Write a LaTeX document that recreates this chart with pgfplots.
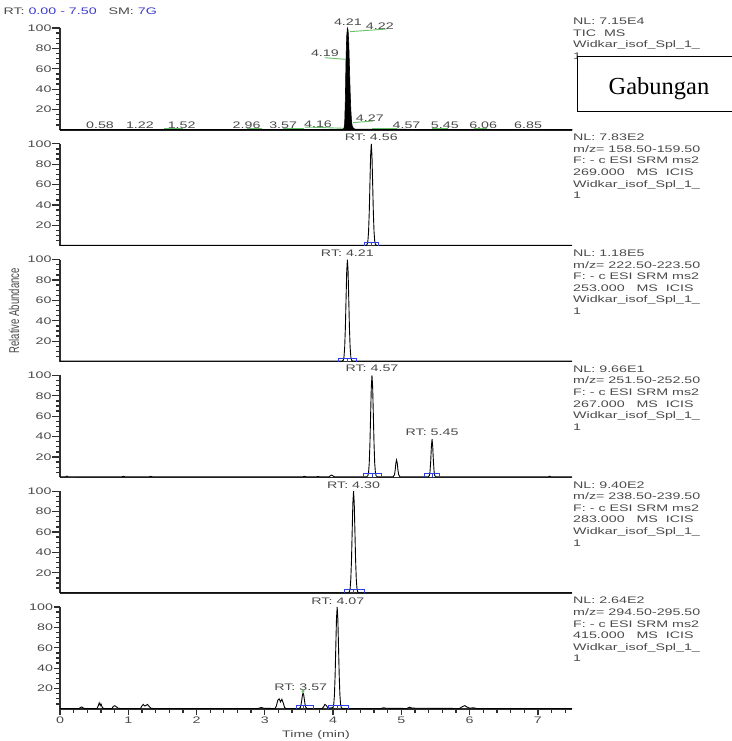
\documentclass[border=0pt]{standalone}
\usepackage{pgfplots}
\pgfplotsset{compat=1.18}
\usepackage{graphicx}
\usepackage{fontspec}
\setmainfont{Liberation Sans}
\newfontfamily\boxfont{Liberation Serif}

\definecolor{axisgray}{HTML}{2E2E2E}
\definecolor{txtgray}{HTML}{4A4A4A}
\definecolor{rtblue}{HTML}{3A3AD0}
\definecolor{lblgreen}{HTML}{66C266}
\definecolor{bblue}{HTML}{2B3FE6}

% wide instrument-style lettering
\newcommand{\sx}[1]{\scalebox{1.5}[1]{#1}}
\newcommand{\chromfont}{\fontsize{9.5}{11.5}\selectfont}
\newcommand{\infoline}[3]{\node[anchor=base west,inner sep=0pt,font=\chromfont,text=txtgray] at (#1pt,#2pt) {\sx{#3}};}
\newcommand{\rtlabel}[3]{\node[anchor=base,inner sep=0pt,font=\chromfont,text=txtgray] at (axis cs:#1,#2) {\sx{#3}};}
% short ticks every 5 % on the intensity scale
\newcommand{\yminors}{\pgfplotsinvokeforeach{5,10,15,25,30,35,45,50,55,65,70,75,85,90,95}{%
  \draw[axisgray, line width=1.3pt] (axis cs:0,##1) -- ++(-4.5pt,0pt);}}

\pgfplotsset{
  chrom/.style={
    scale only axis, width=512pt, height=102pt,
    xmin=0, xmax=7.5, ymin=0, ymax=100,
    axis x line=bottom, axis y line=left,
    axis line style={-, draw=axisgray, line width=1.4pt},
    clip=false,
    xtick=\empty,
    ytick={20,40,60,80,100},
    yticklabels={\sx{20},\sx{40},\sx{60},\sx{80},\sx{100}},
    tick style={draw=axisgray, line width=1.3pt},
    major tick length=7.5pt,
    tick align=outside,
    yticklabel style={font=\chromfont, text=txtgray, inner sep=0.8pt},
    xticklabel style={font=\chromfont, text=txtgray, inner sep=1.5pt},
    every axis plot/.append style={line width=0.9pt},
  },
  bracket/.style={bblue, line width=0.8pt},
  leader/.style={lblgreen, line width=0.9pt},
}

\begin{document}
\begin{tikzpicture}
\useasboundingbox (0pt,0pt) rectangle (731pt,741pt);

% ---------------- TIC ----------------
\begin{axis}[chrom, at={(60pt,611pt)}, anchor=south west]
\yminors
\addplot[black, fill=black, line width=0.6pt] coordinates {
 (0,0.6) (4.12,0.6) (4.15,1.0) (4.16,2.0) (4.17,6) (4.18,30) (4.19,70) (4.20,92)
 (4.21,100) (4.22,98) (4.23,85) (4.24,62) (4.25,38) (4.26,20) (4.27,9) (4.28,4)
 (4.30,1.5) (4.33,0.7) (7.5,0.6)} \closedcycle;
\addplot[leader] coordinates {(4.246,96.4) (4.783,99)};
\addplot[leader] coordinates {(3.880,70.9) (4.173,69.3)};
\addplot[leader] coordinates {(3.587,2.9) (4.148,1.7)};
\addplot[leader] coordinates {(4.294,7.2) (4.587,8.8)};
\addplot[leader] coordinates {(1.52,1.3) (1.80,1.3)};
\addplot[leader] coordinates {(2.74,1.3) (2.96,1.3)};
\addplot[leader] coordinates {(3.27,1.3) (3.57,1.3)};
\addplot[leader] coordinates {(4.57,1.3) (4.93,1.3)};
\addplot[leader] coordinates {(5.45,1.3) (5.69,1.3)};
\addplot[leader] coordinates {(6.06,1.3) (6.25,1.3)};
\rtlabel{4.217}{102.5}{4.21}
\rtlabel{4.685}{98.8}{4.22}
\rtlabel{3.880}{71.8}{4.19}
\rtlabel{3.780}{2.2}{4.16}
\rtlabel{4.539}{8.6}{4.27}
\rtlabel{0.586}{1.5}{0.58}
\rtlabel{1.171}{1.5}{1.22}
\rtlabel{1.782}{1.5}{1.52}
\rtlabel{2.733}{1.5}{2.96}
\rtlabel{3.269}{1.5}{3.57}
\rtlabel{5.076}{1.5}{4.57}
\rtlabel{5.637}{1.5}{5.45}
\rtlabel{6.198}{1.5}{6.06}
\rtlabel{6.857}{1.5}{6.85}
\end{axis}

% ---------------- m/z 158.50-159.50 ----------------
\begin{axis}[chrom, at={(60pt,495.2pt)}, anchor=south west]
\yminors
\addplot[black] coordinates {
 (0,0.4) (4.48,0.4) (4.50,1.4) (4.51,4.7) (4.52,13.8) (4.53,32.7) (4.54,60.8) (4.55,88.3)
 (4.56,100) (4.57,88.3) (4.58,60.8) (4.59,32.7) (4.60,13.8) (4.61,4.7) (4.62,1.4)
 (4.64,0.4) (7.5,0.4)};
\addplot[bracket] coordinates {(4.46,0) (4.46,3.5) (4.67,3.5) (4.67,0)};
\addplot[bracket] coordinates {(4.56,0) (4.56,3.5)};
\rtlabel{4.56}{103.2}{RT: 4.56}
\end{axis}

% ---------------- m/z 222.50-223.50 ----------------
\begin{axis}[chrom, at={(60pt,379.4pt)}, anchor=south west]
\yminors
\addplot[black] coordinates {
 (0,0.4) (4.13,0.4) (4.15,1.4) (4.16,4.7) (4.17,13.8) (4.18,32.7) (4.19,60.8) (4.20,88.3)
 (4.21,100) (4.22,88.3) (4.23,60.8) (4.24,32.7) (4.25,13.8) (4.26,4.7) (4.27,1.4)
 (4.29,0.4) (7.5,0.4)};
\addplot[bracket] coordinates {(4.08,0) (4.08,3.5) (4.34,3.5) (4.34,0)};
\addplot[bracket] coordinates {(4.21,0) (4.21,3.5)};
\rtlabel{4.21}{103.5}{RT: 4.21}
\end{axis}

% ---------------- m/z 251.50-252.50 ----------------
\begin{axis}[chrom, at={(60pt,263.6pt)}, anchor=south west]
\yminors
\addplot[black] coordinates {
 (0,0.5) (0.08,0.5) (0.10,1.3) (0.12,0.6) (0.90,0.5) (0.93,1.0) (0.96,0.5)
 (1.30,0.5) (1.33,1.0) (1.36,0.5) (3.55,0.5) (3.58,1.0) (3.61,0.5) (3.75,0.5) (3.78,0.9)
 (3.81,0.5) (3.94,0.5) (3.96,1.6) (3.98,2.3) (4.00,1.4) (4.02,0.5)
 (4.49,0.5) (4.51,1.6) (4.52,4.9) (4.53,14) (4.54,33) (4.55,61) (4.56,88.3) (4.57,100)
 (4.58,88.3) (4.59,61) (4.60,33) (4.61,14) (4.62,4.9) (4.63,1.6) (4.65,0.5)
 (4.88,0.5) (4.90,2.7) (4.91,7.4) (4.92,14) (4.93,17) (4.94,14) (4.95,7.4) (4.96,2.7) (4.98,0.5)
 (5.39,0.5) (5.41,1.6) (5.42,5.5) (5.43,15.5) (5.44,30) (5.45,37.5) (5.46,30) (5.47,15.5)
 (5.48,5.5) (5.49,1.6) (5.51,0.5) (7.15,0.5) (7.17,1.2) (7.19,0.5) (7.5,0.5)};
\addplot[bracket] coordinates {(4.44,0) (4.44,3.5) (4.71,3.5) (4.71,0)};
\addplot[bracket] coordinates {(4.57,0) (4.57,3.5)};
\addplot[bracket] coordinates {(5.34,0) (5.34,3.5) (5.56,3.5) (5.56,0)};
\addplot[bracket] coordinates {(5.45,0) (5.45,3.5)};
\rtlabel{4.57}{103.5}{RT: 4.57}
\rtlabel{5.45}{41.4}{RT: 5.45}
\end{axis}

% ---------------- m/z 238.50-239.50 ----------------
\begin{axis}[chrom, at={(60pt,147.8pt)}, anchor=south west]
\yminors
\addplot[black] coordinates {
 (0,0.4) (4.22,0.4) (4.24,1.4) (4.25,4.7) (4.26,13.8) (4.27,32.7) (4.28,60.8) (4.29,88.3)
 (4.30,100) (4.31,88.3) (4.32,60.8) (4.33,32.7) (4.34,13.8) (4.35,4.7) (4.36,1.4)
 (4.38,0.4) (7.5,0.4)};
\addplot[bracket] coordinates {(4.16,0) (4.16,3.5) (4.46,3.5) (4.46,0)};
\addplot[bracket] coordinates {(4.30,0) (4.30,3.5)};
\rtlabel{4.30}{102.6}{RT: 4.30}
\end{axis}

% ---------------- m/z 294.50-295.50 ----------------
\begin{axis}[chrom, at={(60pt,32pt)}, anchor=south west,
  xtick={0,1,2,3,4,5,6,7}, major tick length=6pt,
  xticklabels={\sx{0},\sx{1},\sx{2},\sx{3},\sx{4},\sx{5},\sx{6},\sx{7}}]
\yminors
\pgfplotsinvokeforeach{0.2,0.4,0.6,0.8,1.2,1.4,1.6,1.8,2.2,2.4,2.6,2.8,3.2,3.4,3.6,3.8,
    4.2,4.4,4.6,4.8,5.2,5.4,5.6,5.8,6.2,6.4,6.6,6.8,7.2,7.4}{%
  \draw[axisgray, line width=1.3pt] (axis cs:#1,0) -- ++(0pt,-4.5pt);}
\addplot[black] coordinates {
 (0,0.5) (0.28,0.5) (0.30,1.5) (0.32,2) (0.34,1) (0.36,0.5) (0.54,0.5) (0.56,3)
 (0.575,6) (0.59,3.5) (0.60,5) (0.62,1.5) (0.64,0.5) (0.76,0.5) (0.78,2.5) (0.80,3.2)
 (0.82,2.5) (0.85,0.8) (0.88,0.5) (1.18,0.5) (1.20,3) (1.22,4.5) (1.24,3) (1.26,3.5)
 (1.28,4.5) (1.30,3) (1.33,0.8) (1.36,0.5) (2.90,0.5) (2.95,1.5) (2.99,0.6) (3.15,0.5)
 (3.17,3) (3.19,8.5) (3.21,10) (3.23,7) (3.25,9.5) (3.27,6) (3.29,1.5) (3.31,0.5)
 (3.50,0.5) (3.52,1.5) (3.53,4) (3.54,8) (3.55,13) (3.56,15.5) (3.57,14) (3.58,9)
 (3.59,4.5) (3.60,1.8) (3.62,0.5) (3.84,0.5) (3.86,2) (3.88,4.5) (3.90,3.5) (3.92,1.5)
 (3.95,0.8) (3.99,1.4) (4.00,1.4) (4.01,4.7) (4.02,13.8) (4.03,32.7) (4.04,60.8)
 (4.05,88.3) (4.06,100) (4.07,88.3) (4.08,60.8) (4.09,32.7) (4.10,13.8) (4.11,4.7)
 (4.12,1.4) (4.14,0.5) (4.70,0.5) (4.74,1.2) (4.78,0.7) (5.08,0.5) (5.12,1.8) (5.16,0.8)
 (5.85,0.5) (5.90,2.5) (5.93,3.3) (5.96,2) (6.00,0.8) (6.06,1.2) (6.10,0.5) (7.5,0.5)};
\addplot[lblgreen, only marks, mark=*, mark size=1pt] coordinates {(3.56,17.5)};
\addplot[bracket] coordinates {(3.47,0) (3.47,3.5) (3.71,3.5) (3.71,0)};
\addplot[bracket] coordinates {(3.57,0) (3.57,3.5)};
\addplot[bracket] coordinates {(3.93,0) (3.93,3.5) (4.22,3.5) (4.22,0)};
\addplot[bracket] coordinates {(4.07,0) (4.07,3.5)};
\rtlabel{4.07}{102.7}{RT: 4.07}
\rtlabel{3.526}{18.4}{RT: 3.57}
\end{axis}

% time axis title
\node[anchor=base,inner sep=0pt,font=\chromfont,text=txtgray] at (316pt,3.7pt) {\sx{Time (min)}};

% run header
\node[anchor=base west,inner sep=0pt,font=\chromfont,text=txtgray] at (3.3pt,726.5pt)
  {\sx{RT: \textcolor{rtblue}{0.00 - 7.50}\ \ \ SM: \textcolor{rtblue}{7G}}};

% vertical axis title
\node[rotate=90,inner sep=0pt,font=\chromfont,text=txtgray] at (14pt,430.2pt)
  {\scalebox{1}[1.5]{Relative Abundance}};

% trace descriptions
\infoline{573}{716.5}{NL: 7.15E4}
\infoline{573}{704.9}{TIC\ \ MS}
\infoline{573}{693.3}{Widkar\_isof\_Spl\_1\_}
\infoline{573}{681.7}{1}

\infoline{573}{600.2}{NL: 7.83E2}
\infoline{573}{588.6}{m/z= 158.50-159.50}
\infoline{573}{577.0}{F: - c ESI SRM ms2}
\infoline{573}{565.4}{269.000\ \ \ MS\ \ ICIS}
\infoline{573}{553.8}{Widkar\_isof\_Spl\_1\_}
\infoline{573}{542.2}{1}

\infoline{573}{484.4}{NL: 1.18E5}
\infoline{573}{472.8}{m/z= 222.50-223.50}
\infoline{573}{461.2}{F: - c ESI SRM ms2}
\infoline{573}{449.6}{253.000\ \ \ MS\ \ ICIS}
\infoline{573}{438.0}{Widkar\_isof\_Spl\_1\_}
\infoline{573}{426.4}{1}

\infoline{573}{368.6}{NL: 9.66E1}
\infoline{573}{357.0}{m/z= 251.50-252.50}
\infoline{573}{345.4}{F: - c ESI SRM ms2}
\infoline{573}{333.8}{267.000\ \ \ MS\ \ ICIS}
\infoline{573}{322.2}{Widkar\_isof\_Spl\_1\_}
\infoline{573}{310.6}{1}

\infoline{573}{252.8}{NL: 9.40E2}
\infoline{573}{241.2}{m/z= 238.50-239.50}
\infoline{573}{229.6}{F: - c ESI SRM ms2}
\infoline{573}{218.0}{283.000\ \ \ MS\ \ ICIS}
\infoline{573}{206.4}{Widkar\_isof\_Spl\_1\_}
\infoline{573}{194.8}{1}

\infoline{573}{137.0}{NL: 2.64E2}
\infoline{573}{125.4}{m/z= 294.50-295.50}
\infoline{573}{113.8}{F: - c ESI SRM ms2}
\infoline{573}{102.2}{415.000\ \ \ MS\ \ ICIS}
\infoline{573}{90.6}{Widkar\_isof\_Spl\_1\_}
\infoline{573}{79.0}{1}

% caption box
\draw[black, fill=white, line width=0.9pt] (577pt,630pt) rectangle (745pt,685pt);
\node[anchor=base,inner sep=0pt,font=\boxfont\fontsize{24.5}{28}\selectfont] at (659pt,646pt) {Gabungan};
\end{tikzpicture}
\end{document}
